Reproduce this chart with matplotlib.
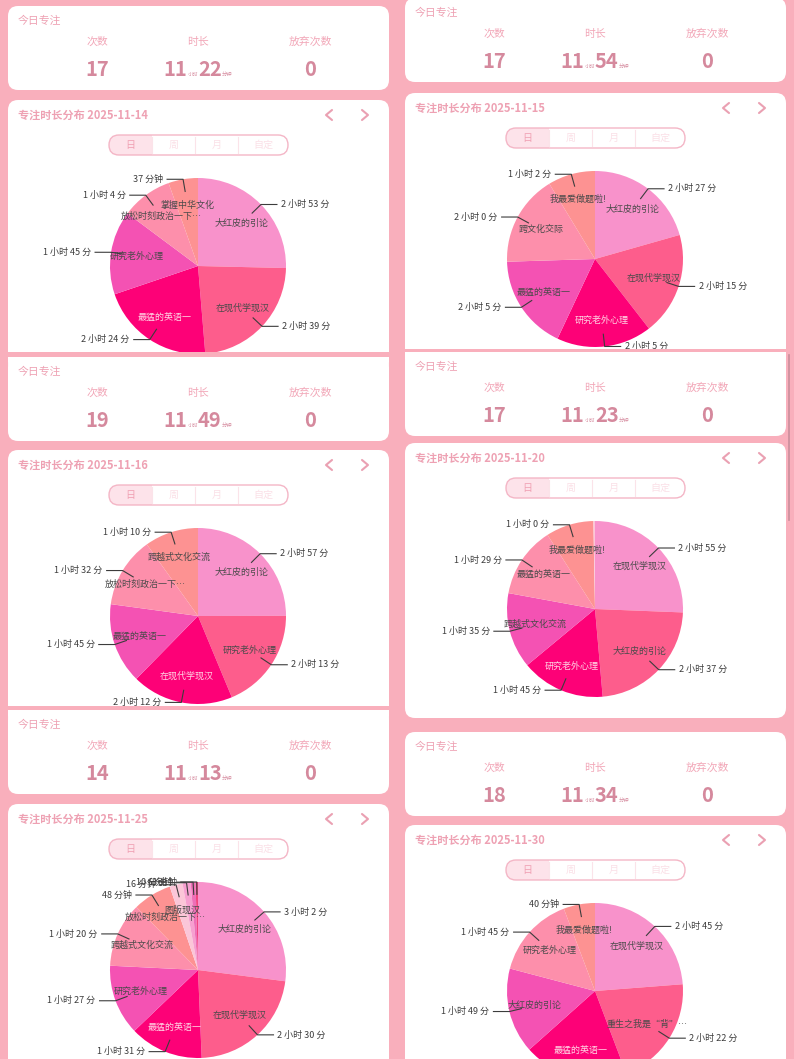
import numpy as np
import matplotlib
matplotlib.use('Agg')
import matplotlib.pyplot as plt
from matplotlib.patches import FancyBboxPatch, Rectangle


W, H = 794, 1059
R = 88

BG = '#f9afbc'
TITLE_PINK = '#eea1b3'
HEAD_PINK = '#f2a7b8'
VALUE_PINK = '#d5899d'
DARK = '#3c3c3c'
PALETTE = ['#f892cb', '#fd5d8c', '#fd0177', '#f452b3', '#fd8fab',
           '#fd9292', '#fbc6d8', '#f6a0d0', '#ee6fb8', '#f2447f']

DATES = ['2025-11-14', '2025-11-15', '2025-11-16',
         '2025-11-20', '2025-11-25', '2025-11-30']
COUNTS = [17, 17, 19, 17, 14, 18]
TOTAL_H = [11, 11, 11, 11, 11, 11]
TOTAL_M = [22, 54, 49, 23, 13, 34]
GIVE_UPS = [0, 0, 0, 0, 0, 0]

TASKS_1114 = ['大红皮的引论', '在现代学现汉', '最猛的英语一', '研究老外心理',
              '放松时刻政治一下…', '掌握中华文化']
MINS_1114 = [173, 159, 144, 105, 64, 37]

TASKS_1115 = ['大红皮的引论', '在现代学现汉', '研究老外心理', '最猛的英语一',
              '跨文化交际', '我最爱做题啦!']
MINS_1115 = [147, 135, 125, 125, 120, 62]

TASKS_1116 = ['大红皮的引论', '研究老外心理', '在现代学现汉', '最猛的英语一',
              '放松时刻政治一下…', '跨越式文化交流']
MINS_1116 = [177, 133, 132, 105, 92, 70]

TASKS_1120 = ['在现代学现汉', '大红皮的引论', '研究老外心理', '跨越式文化交流',
              '最猛的英语一', '我最爱做题啦!', '']
MINS_1120 = [175, 157, 105, 95, 89, 60, 2]

TASKS_1125 = ['大红皮的引论', '在现代学现汉', '最猛的英语一', '研究老外心理',
              '跨越式文化交流', '放松时刻政治一下…', '图版现汉', '', '', '']
MINS_1125 = [182, 150, 91, 87, 80, 48, 16, 10, 6, 3]

TASKS_1130 = ['在现代学现汉', '重生之我是“背”…', '最猛的英语一', '大红皮的引论',
              '研究老外心理', '我最爱做题啦!']
MINS_1130 = [165, 142, 133, 109, 105, 40]

DAY_TASKS = [TASKS_1114, TASKS_1115, TASKS_1116, TASKS_1120, TASKS_1125, TASKS_1130]
DAY_MINS = [MINS_1114, MINS_1115, MINS_1116, MINS_1120, MINS_1125, MINS_1130]

# column x, stat card top, pie card top, pie card visible bottom, rounded bottom
LAYOUT = [
    (0, 6, 100, 352, False),
    (397, -2, 93, 349, False),
    (0, 357, 450, 706, False),
    (397, 352, 443, 718, True),
    (0, 710, 804, 1070, False),
    (397, 732, 825, 1070, False),
]


def Y(y):
    return H - y


def card(ax, x0, y0, x1, y1, z):
    p = FancyBboxPatch((x0, Y(y1)), x1 - x0, y1 - y0,
                       boxstyle='round,pad=0,rounding_size=10',
                       fc='white', ec='none', zorder=z)
    ax.add_patch(p)
    return p


def fmt_minutes(m):
    h, mm = divmod(m, 60)
    if h == 0:
        return f'{mm} 分钟'
    return f'{h} 小时 {mm} 分'


def draw_duration(ax, cx, base_y, hours, minutes, z):
    renderer = ax.figure.canvas.get_renderer()
    parts = [(str(hours), 14.5), ('小时', 3.8), (str(minutes), 14.5), ('分钟', 3.8)]
    texts = []
    for s, fs in parts:
        t = ax.text(0, Y(base_y), s, fontsize=fs, color=VALUE_PINK,
                    fontweight='bold' if fs > 10 else 'normal',
                    ha='left', va='baseline', zorder=z)
        texts.append(t)
    widths = [t.get_window_extent(renderer).width for t in texts]
    x = cx - sum(widths) / 2
    for t, w in zip(texts, widths):
        t.set_x(x)
        x += w


def draw_stat_card(ax, cl, top, count, hours, minutes, give_up, z):
    card(ax, cl, top, cl + 381, top + 84, z)
    ax.text(cl + 10, Y(top + 15), '今日专注', fontsize=7.8, color=TITLE_PINK,
            ha='left', va='center', zorder=z + 1)
    cols = [cl + 89, cl + 190, cl + 302]
    for x, head in zip(cols, ['次数', '时长', '放弃次数']):
        ax.text(x, Y(top + 36), head, fontsize=7.8, color=HEAD_PINK,
                ha='center', va='center', zorder=z + 1)
    ax.text(cols[0], Y(top + 70), str(count), fontsize=14.5, fontweight='bold',
            color=VALUE_PINK, ha='center', va='baseline', zorder=z + 1)
    draw_duration(ax, cols[1], top + 70, hours, minutes, z + 1)
    ax.text(cols[2], Y(top + 70), str(give_up), fontsize=14.5, fontweight='bold',
            color=VALUE_PINK, ha='center', va='baseline', zorder=z + 1)


def chevron(ax, x, y, sign, z):
    xs = [x + 3 * sign, x - 3 * sign, x + 3 * sign]
    ys = [Y(y - 5), Y(y), Y(y + 5)]
    ax.plot(xs, ys, color='#eaa0b2', lw=1.5, solid_capstyle='round',
            solid_joinstyle='round', zorder=z)


def draw_segments(ax, cl, top, z):
    xs = [cl + 101, cl + 144, cl + 187, cl + 230, cl + 280]
    h = 20
    pill = FancyBboxPatch((xs[0], Y(top + h)), xs[-1] - xs[0], h,
                          boxstyle='round,pad=0,rounding_size=10',
                          fc='white', ec='none', zorder=z + 1)
    ax.add_patch(pill)
    sel = Rectangle((xs[0], Y(top + h)), xs[1] - xs[0], h,
                    fc='#fde3ea', ec='none', zorder=z + 1.5)
    ax.add_patch(sel)
    sel.set_clip_path(pill)
    outline = FancyBboxPatch((xs[0], Y(top + h)), xs[-1] - xs[0], h,
                             boxstyle='round,pad=0,rounding_size=10',
                             fc='none', ec='#f4b6c6', lw=1.0, zorder=z + 2)
    ax.add_patch(outline)
    for x in xs[1:-1]:
        ax.plot([x, x], [Y(top + 2), Y(top + h - 2)], color='#fbe3e9',
                lw=0.8, zorder=z + 2)
    for i, lab in enumerate(['日', '周', '月', '自定']):
        ax.text((xs[i] + xs[i + 1]) / 2, Y(top + h / 2), lab, fontsize=7.2,
                color='#f0a0b3' if i == 0 else '#fbe0e7',
                ha='center', va='center', zorder=z + 2)


def draw_pie(ax, cx, cy, tasks, mins, z):
    wedges, _ = ax.pie(mins, colors=PALETTE[:len(mins)], startangle=90,
                       counterclock=False, center=(cx, Y(cy)), radius=R,
                       frame=True, wedgeprops=dict(linewidth=0, zorder=z + 1))
    for i, (w, name, m) in enumerate(zip(wedges, tasks, mins)):
        a = np.deg2rad((w.theta1 + w.theta2) / 2)
        dx, dy = np.cos(a), np.sin(a)
        if name:
            ax.text(cx + 0.7 * R * dx, Y(cy) + 0.7 * R * dy, name, fontsize=6.5,
                    color='#ffd6e4' if i == 2 else '#4a4a4a',
                    ha='center', va='center', zorder=z + 2)
        if m < 3:
            continue
        sign = 1 if dx >= 0 else -1
        x0, y0 = cx + 0.86 * R * dx, Y(cy) + 0.86 * R * dy
        x1, y1 = cx + 1.0 * R * dx, Y(cy) + 1.0 * R * dy
        x2 = x1 + 16 * sign
        ax.plot([x0, x1, x2], [y0, y1, y1], color=DARK, lw=0.8, zorder=z + 2)
        ax.text(x2 + 4 * sign, y1, fmt_minutes(m), fontsize=6.5, color=DARK,
                ha='left' if sign > 0 else 'right', va='center', zorder=z + 2)


def main():
    plt.rcParams['font.family'] = ['Noto Sans CJK SC', 'DejaVu Sans']
    fig = plt.figure(figsize=(W / 100, H / 100), dpi=100, facecolor=BG)
    ax = fig.add_axes([0, 0, 1, 1])
    ax.set_facecolor(BG)

    prev_bottom = {0: None, 397: None}
    level = {0: 0, 397: 0}
    for d, (col, stat_top, pie_top, pie_bottom, rounded) in enumerate(LAYOUT):
        z = 10 * level[col]
        level[col] += 1
        cl = col + 8
        if prev_bottom[col] is not None:
            ax.add_patch(Rectangle((col, Y(stat_top)), 397, stat_top - prev_bottom[col],
                                   fc=BG, ec='none', lw=0, zorder=z))
        draw_stat_card(ax, cl, stat_top, COUNTS[d], TOTAL_H[d], TOTAL_M[d],
                       GIVE_UPS[d], z + 0.5)
        card(ax, cl, pie_top, cl + 381, pie_bottom if rounded else pie_bottom + 20, z)
        prev_bottom[col] = pie_bottom
        ax.text(cl + 10, Y(pie_top + 15), '专注时长分布 ' + DATES[d], fontsize=8,
                fontweight='bold', color=TITLE_PINK, ha='left', va='center',
                zorder=z + 1)
        chevron(ax, cl + 321, pie_top + 15, 1, z + 1)
        chevron(ax, cl + 357, pie_top + 15, -1, z + 1)
        draw_segments(ax, cl, pie_top + 35, z)
        draw_pie(ax, col + 198, pie_top + 166, DAY_TASKS[d], DAY_MINS[d], z)

    # scrollbar of the right screenshot
    ax.plot([789, 789], [Y(355), Y(520)], color='#c98e9c', lw=1.2, zorder=50)

    ax.set_xlim(0, W)
    ax.set_ylim(0, H)
    ax.set_aspect('auto')
    ax.set_axis_off()
    fig.savefig('out.png', dpi=100, facecolor=BG)


if __name__ == '__main__':
    main()
